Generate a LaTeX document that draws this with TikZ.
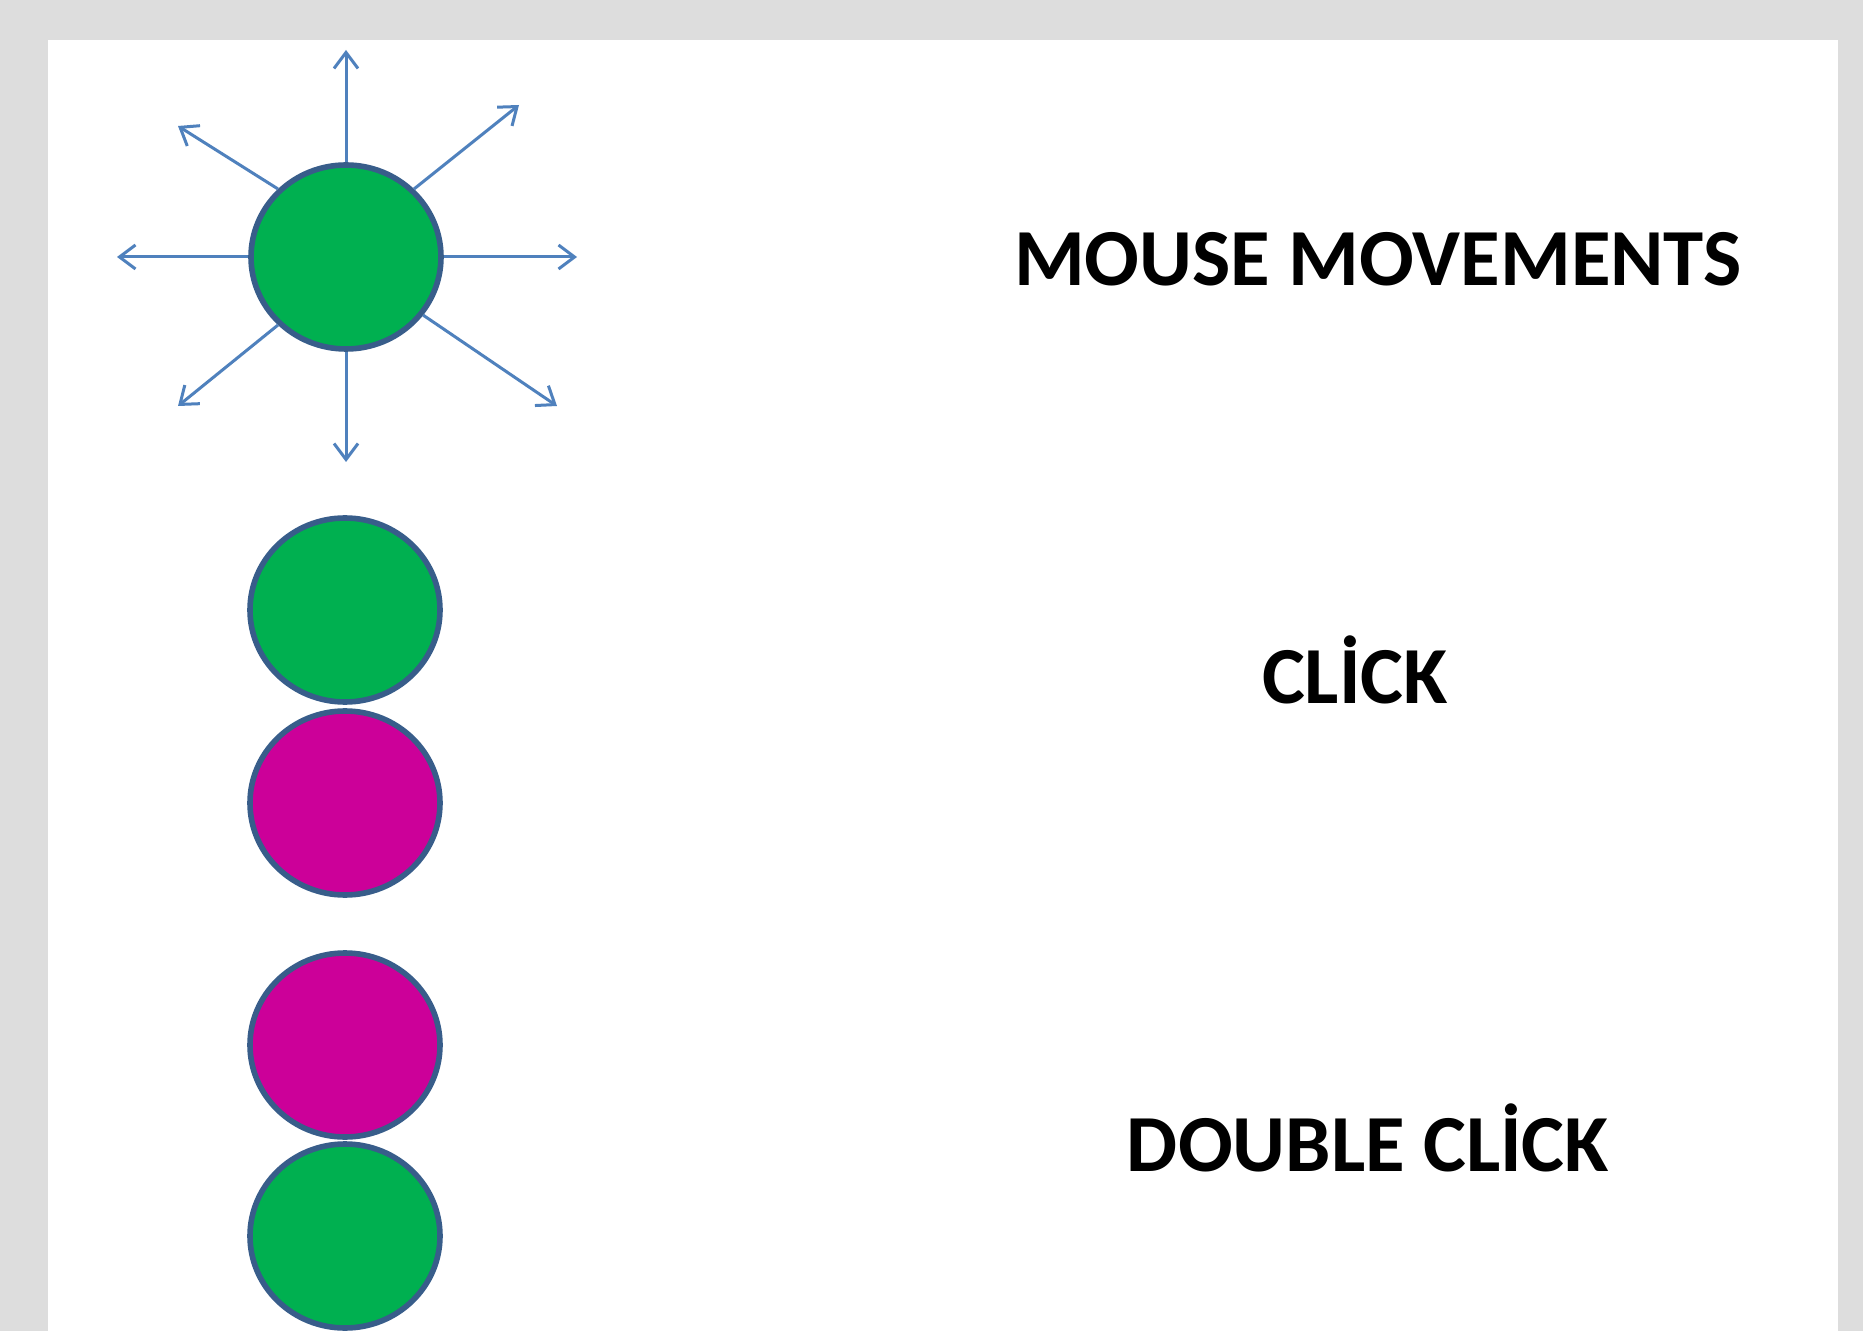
\documentclass[tikz,border=0pt]{standalone}
\usepackage{fontspec}
\setmainfont{Carlito}
\usetikzlibrary{shapes.geometric,arrows.meta}
\definecolor{bggray}{HTML}{DDDDDD}
\definecolor{dotgreen}{HTML}{00B050}
\definecolor{dotmagenta}{HTML}{CC0099}
\definecolor{rimblue}{HTML}{385D8A}
\definecolor{arrblue}{HTML}{4F81BD}
\tikzset{
  dot/.style={ellipse, draw=rimblue, line width=2.8pt, minimum width=95pt, minimum height=92pt, inner sep=0pt},
  arr/.style={draw=arrblue, line width=1.5pt, -{Straight Barb[length=8pt,width=12pt,line width=1.5pt]}},
  lbl/.style={anchor=base, inner sep=0pt, font=\fontsize{40.5}{48}\selectfont\bfseries}
}
\begin{document}
\begin{tikzpicture}[x=0.5pt,y=-0.5pt]
\fill[bggray] (0,0) rectangle (1863,1331);
\fill[white] (48,40) rectangle (1838,1331);
\useasboundingbox (0,0) rectangle (1863,1331);
% top circle with arrows
\node[dot, fill=dotgreen] (c1) at (346,257) {};
\coordinate (tN) at (346,50);
\coordinate (tS) at (346,462);
\coordinate (tW) at (117,257);
\coordinate (tE) at (577,257);
\coordinate (tNE) at (519,105);
\coordinate (tNW) at (178,126);
\coordinate (tSW) at (178,406);
\coordinate (tSE) at (557,406);
\draw[arr] (c1.north) -- (tN);
\draw[arr] (c1.south) -- (tS);
\draw[arr] (c1.west) -- (tW);
\draw[arr] (c1.east) -- (tE);
\draw[arr] (c1.45) -- (tNE);
\draw[arr] (c1.135) -- (tNW);
\draw[arr] (c1.225) -- (tSW);
\draw[arr] (c1.-37) -- (tSE);
% click
\node[dot, fill=dotgreen] (c2) at (345,610) {};
\node[dot, fill=dotmagenta] (c3) at (345,803) {};
% double click
\node[dot, fill=dotmagenta] (c4) at (345,1045) {};
\node[dot, fill=dotgreen] (c5) at (345,1236) {};
% labels
\node[lbl] (l1) at (1378,286) {MOUSE MOVEMENTS};
\node[lbl] (l2) at (1355,703) {CLİCK};
\node[lbl] (l3) at (1368,1171) {DOUBLE CLİCK};
\end{tikzpicture}
\end{document}
